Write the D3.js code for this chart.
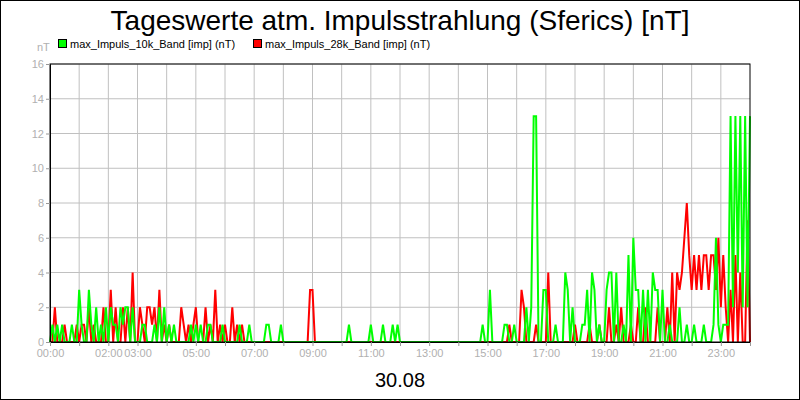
<!DOCTYPE html>
<html><head><meta charset="utf-8">
<script src="https://cdn.jsdelivr.net/npm/d3@7"></script>
<style>body{margin:0;background:#fff}svg{font-family:"Liberation Sans",Arial,sans-serif}</style>
</head><body><svg id="c" width="800" height="400"></svg>
<script>
// non-zero readings [hour, value]; everything else is 0
var band10k = [[0.09,1],[0.23,1],[0.4,1],[0.74,1],[1.0,3],[1.1,1],[1.31,3],[1.4,1],[1.57,2],[1.77,1],[1.92,2],[2.06,2],[2.15,1],[2.23,1],[2.4,2],[2.5,1],[2.57,2],[2.68,2],[2.85,2],[3.14,1],[3.26,1],[3.6,1],[3.77,2],[3.88,2],[4.11,1],[4.23,1],[4.8,1],[5.03,1],[5.14,1],[5.43,1],[5.54,1],[5.94,1],[6.51,1],[6.8,1],[7.43,1],[7.51,1],[7.94,1],[10.23,1],[11.03,1],[11.4,1],[11.71,1],[11.94,1],[14.86,1],[15.12,3],[15.6,1],[15.7,1],[15.88,1],[16.34,2],[16.46,2],[16.6,13],[16.68,13],[16.89,3],[16.97,3],[17.04,3],[17.31,1],[17.69,4],[17.77,3],[17.94,2],[18.23,1],[18.3,1],[18.45,3],[18.6,4],[18.68,3],[18.86,1],[19.05,3],[19.13,4],[19.2,3],[19.26,4],[19.43,4],[19.65,1],[19.86,5],[20.0,6],[20.1,3],[20.2,3],[20.3,3],[20.46,3],[20.63,4],[20.72,3],[20.8,3],[20.97,3],[21.26,1],[21.6,2],[21.83,1],[22.05,1],[22.4,1],[22.74,1],[22.86,6],[22.95,1],[23.08,1],[23.16,1],[23.25,1],[23.33,13],[23.41,2],[23.5,13],[23.58,4],[23.66,13],[23.75,2],[23.83,13],[23.91,2],[24.0,13]];
var band28k = [[0.17,2],[0.51,1],[0.91,1],[1.1,1],[1.2,1],[1.3,2],[1.5,1],[1.82,2],[2.11,3],[2.29,2],[2.46,2],[2.63,2],[2.86,4],[3.1,2],[3.2,1],[3.3,2],[3.4,2],[3.5,1],[3.6,2],[3.77,3],[3.94,1],[4.11,1],[4.46,2],[4.6,1],[4.75,1],[4.9,1],[5.03,2],[5.31,2],[5.49,1],[5.66,3],[5.83,1],[6.0,1],[6.23,2],[6.4,1],[6.6,1],[8.91,3],[9.0,3],[15.77,1],[16.17,3],[16.29,2],[16.68,1],[17.07,4],[18.0,1],[18.5,1],[18.8,1],[19.2,2],[19.4,1],[19.6,2],[19.9,1],[20.16,2],[20.4,2],[20.8,2],[21.14,2],[21.3,3],[21.37,4],[21.49,4],[21.6,3],[21.7,4],[21.77,6],[21.86,8],[21.95,5],[22.03,3],[22.12,5],[22.2,3],[22.28,5],[22.37,3],[22.45,5],[22.53,5],[22.62,3],[22.7,5],[22.78,5],[22.87,3],[22.94,6],[23.03,2],[23.12,5],[23.2,2],[23.3,3],[23.5,5],[23.7,4],[23.9,7]];
var xTickHours = [0,2,3,5,7,9,11,13,15,17,19,21,23];
var yTicks = [0,2,4,6,8,10,12,14,16];

function toSeries(events) {
  var vals = new Array(289).fill(0);
  events.forEach(function(e) {
    var i = Math.round(e[0] * 12);
    vals[i] = Math.max(vals[i], e[1]);
  });
  return vals.map(function(v, i) { return [i / 12, v]; });
}

var svg = d3.select('#c');
var m = {l: 50, r: 750, t: 64, b: 342};
var x = d3.scaleLinear().domain([0, 24]).range([m.l, m.r]);
var y = d3.scaleLinear().domain([0, 16]).range([m.b, m.t]);

svg.append('rect').attr('x', 0.5).attr('y', 0.5).attr('width', 799).attr('height', 399)
  .attr('fill', '#fff').attr('stroke', '#000');

svg.append('text').attr('x', 400).attr('y', 30).attr('text-anchor', 'middle')
  .attr('font-size', 28).text('Tageswerte atm. Impulsstrahlung (Sferics) [nT]');

// grid
svg.append('g').selectAll('line').data(d3.range(1, 24)).enter().append('line')
  .attr('x1', function(d) { return x(d); }).attr('x2', function(d) { return x(d); })
  .attr('y1', m.t).attr('y2', m.b).attr('stroke', '#c0c0c0');
svg.append('g').selectAll('line').data(yTicks.slice(1)).enter().append('line')
  .attr('x1', m.l).attr('x2', m.r)
  .attr('y1', function(d) { return y(d); }).attr('y2', function(d) { return y(d); })
  .attr('stroke', '#c0c0c0');

var line = d3.line().x(function(d) { return x(d[0]); }).y(function(d) { return y(d[1]); });
svg.append('path').datum(toSeries(band28k)).attr('d', line)
  .attr('fill', 'none').attr('stroke', '#ff0000').attr('stroke-width', 2);
svg.append('path').datum(toSeries(band10k)).attr('d', line)
  .attr('fill', 'none').attr('stroke', '#00ff00').attr('stroke-width', 2);

svg.append('rect').attr('x', m.l).attr('y', m.t).attr('width', m.r - m.l).attr('height', m.b - m.t)
  .attr('fill', 'none').attr('stroke', '#000');

// axes
var yAxis = d3.axisLeft(y).tickValues(yTicks).tickSize(4).tickPadding(2);
var gy = svg.append('g').attr('transform', 'translate(' + m.l + ',0)').call(yAxis);
var xAxis = d3.axisBottom(x).tickValues(d3.range(0, 25)).tickSize(4)
  .tickFormat(function(d) { return xTickHours.indexOf(d) >= 0 ? d3.format('02d')(d) + ':00' : ''; });
var gx = svg.append('g').attr('transform', 'translate(0,' + m.b + ')').call(xAxis);
[gx, gy].forEach(function(g) {
  g.select('.domain').attr('stroke', '#000');
  g.selectAll('.tick line').attr('stroke', '#999');
  g.selectAll('text').attr('fill', '#b0b0b0').attr('font-size', 11)
    .attr('font-family', '"Liberation Sans",Arial,sans-serif');
});

svg.append('text').attr('x', 37).attr('y', 51).attr('fill', '#b0b0b0').attr('font-size', 11).text('nT');

var legend = [['max_Impuls_10k_Band [imp] (nT)', '#00ff00', 58], ['max_Impuls_28k_Band [imp] (nT)', '#ff0000', 253]];
legend.forEach(function(l) {
  svg.append('rect').attr('x', l[2] + 0.5).attr('y', 39.5).attr('width', 8).attr('height', 8)
    .attr('fill', l[1]).attr('stroke', '#000');
  svg.append('text').attr('x', l[2] + 12).attr('y', 48).attr('font-size', 11).text(l[0]);
});

svg.append('text').attr('x', 400).attr('y', 387).attr('text-anchor', 'middle')
  .attr('font-size', 20).text('30.08');
</script></body></html>
